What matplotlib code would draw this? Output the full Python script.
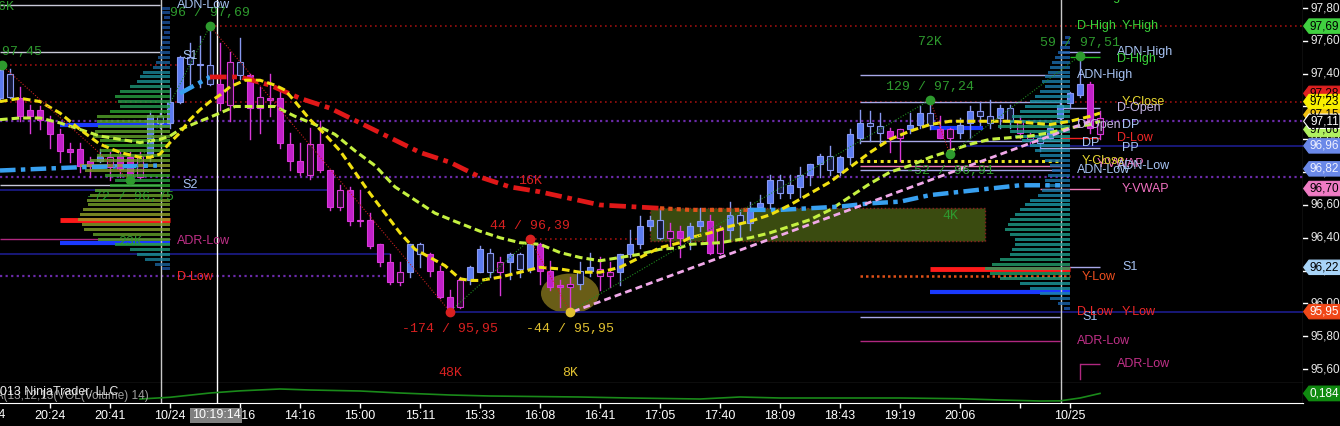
import numpy as np
import matplotlib
matplotlib.use("Agg")
import matplotlib.pyplot as plt
from matplotlib.patches import Rectangle, Ellipse, Polygon
from matplotlib.colors import LinearSegmentedColormap
from matplotlib.transforms import blended_transform_factory

SANS = ["Liberation Sans", "DejaVu Sans"]
MONO = ["Liberation Mono", "DejaVu Sans Mono"]
plt.rcParams["font.family"] = SANS

# ---------------- data (one bar = one candle) ----------------
opens = [97.25, 97.26, 97.25, 97.18, 97.18, 97.11, 97.03, 96.94, 96.94, 96.87,
         96.87, 96.89, 96.90, 96.89, 96.90, 96.89, 97.10, 97.10, 97.23, 97.46,
         97.45, 97.34, 97.34, 97.47, 97.39, 97.39, 97.26, 97.25, 97.25, 96.97,
         96.87, 96.97, 96.97, 96.81, 96.69, 96.69, 96.51, 96.51, 96.36, 96.25,
         96.19, 96.19, 96.30, 96.30, 96.20, 96.04, 96.14, 96.14, 96.19, 96.19,
         96.25, 96.25, 96.21, 96.21, 96.36, 96.20, 96.11, 96.12, 96.12, 96.20,
         96.21, 96.19, 96.19, 96.30, 96.36, 96.47, 96.40, 96.44, 96.44, 96.40,
         96.47, 96.50, 96.45, 96.45, 96.49, 96.49, 96.59, 96.61, 96.67, 96.67,
         96.71, 96.78, 96.85, 96.81, 96.80, 96.89, 97.01, 97.08, 97.04, 97.05,
         97.06, 97.06, 97.09, 97.09, 97.06, 97.06, 97.04, 97.10, 97.14, 97.10,
         97.13, 97.11, 97.11, 97.02, 96.98, 97.01, 97.13, 97.22, 97.27, 97.34,
         97.13]
highs = [97.45, 97.43, 97.32, 97.21, 97.20, 97.14, 97.06, 96.98, 96.98, 96.89,
         96.94, 96.92, 96.92, 96.92, 96.92, 97.17, 97.16, 97.31, 97.51, 97.59,
         97.63, 97.69, 97.59, 97.53, 97.62, 97.40, 97.32, 97.40, 97.31, 97.04,
         96.98, 97.07, 97.11, 96.81, 96.72, 96.71, 96.69, 96.55, 96.36, 96.30,
         96.25, 96.36, 96.37, 96.31, 96.23, 96.08, 96.16, 96.23, 96.35, 96.33,
         96.28, 96.31, 96.31, 96.39, 96.37, 96.26, 96.14, 96.16, 96.25, 96.31,
         96.28, 96.25, 96.30, 96.45, 96.53, 96.53, 96.58, 96.49, 96.47, 96.49,
         96.58, 96.54, 96.47, 96.62, 96.57, 96.62, 96.66, 96.78, 96.78, 96.78,
         96.83, 96.85, 96.91, 96.96, 96.90, 97.06, 97.18, 97.17, 97.16, 97.07,
         97.06, 97.16, 97.20, 97.24, 97.14, 97.07, 97.13, 97.20, 97.23, 97.24,
         97.21, 97.21, 97.14, 97.04, 97.03, 97.09, 97.24, 97.29, 97.51, 97.35,
         97.17]
lows = [97.24, 97.25, 97.11, 97.04, 97.06, 96.95, 96.86, 96.86, 96.80, 96.77,
        96.86, 96.75, 96.77, 96.75, 96.76, 96.87, 97.07, 97.07, 97.22, 97.34,
        97.32, 97.33, 97.18, 97.11, 97.37, 97.00, 97.04, 97.14, 96.95, 96.81,
        96.78, 96.76, 96.80, 96.57, 96.57, 96.48, 96.47, 96.34, 96.23, 96.12,
        96.11, 96.16, 96.22, 96.17, 96.03, 95.95, 95.97, 96.12, 96.19, 96.16,
        96.05, 96.15, 96.16, 96.19, 96.12, 96.08, 95.98, 95.95, 96.09, 96.17,
        96.08, 96.10, 96.11, 96.28, 96.34, 96.45, 96.39, 96.33, 96.28, 96.33,
        96.44, 96.30, 96.30, 96.39, 96.40, 96.45, 96.58, 96.58, 96.64, 96.64,
        96.65, 96.72, 96.77, 96.78, 96.78, 96.85, 96.98, 96.99, 96.98, 96.92,
        96.87, 97.04, 97.07, 97.06, 97.01, 96.91, 97.01, 97.01, 97.09, 97.07,
        97.07, 97.07, 97.01, 96.97, 96.93, 97.00, 97.10, 97.19, 97.26, 97.04,
        97.00]
closes = [97.42, 97.40, 97.14, 97.14, 97.12, 97.03, 96.93, 96.92, 96.84, 96.84,
          96.90, 96.83, 96.82, 96.77, 96.77, 97.15, 97.14, 97.23, 97.50, 97.50,
          97.46, 97.45, 97.22, 97.21, 97.47, 97.19, 97.19, 97.24, 96.98, 96.87,
          96.80, 96.78, 96.81, 96.59, 96.59, 96.50, 96.50, 96.35, 96.25, 96.13,
          96.13, 96.36, 96.36, 96.20, 96.04, 95.97, 95.98, 96.22, 96.33, 96.31,
          96.19, 96.30, 96.30, 96.36, 96.20, 96.10, 96.10, 96.10, 96.20, 96.22,
          96.17, 96.17, 96.30, 96.36, 96.47, 96.51, 96.51, 96.40, 96.40, 96.47,
          96.50, 96.31, 96.31, 96.54, 96.54, 96.58, 96.61, 96.75, 96.75, 96.72,
          96.78, 96.85, 96.90, 96.90, 96.89, 97.03, 97.10, 97.10, 97.08, 97.01,
          97.01, 97.09, 97.16, 97.16, 97.01, 97.01, 97.09, 97.17, 97.17, 97.14,
          97.19, 97.19, 97.04, 97.00, 97.01, 97.07, 97.21, 97.28, 97.34, 97.07,
          97.03]
hollow = [1, 11, 14, 16, 19, 21, 23, 24, 26, 31, 34, 40, 42, 46, 49, 50, 52, 57,
          58, 60, 61, 66, 67, 72, 74, 78, 83, 87, 88, 90, 93, 95, 98, 99, 101,
          102, 103, 104, 110]

# moving averages, sampled along the drawn curves
ma_fast_x = [0, 2, 4, 6, 8, 10, 12, 14, 15, 16, 17, 18, 19, 20, 21, 22, 23, 24.5,
             26, 27.5, 28.5, 29.5, 31, 32.5, 34, 35.5, 37, 38.5, 40, 41.5, 43, 44.5,
             46, 47, 48, 50, 52, 54, 56, 58, 60, 62, 64, 66, 68, 69, 71, 73, 75, 77,
             79, 81, 83, 85, 87, 89, 91, 93, 95, 97, 99, 101, 103, 105, 107, 109, 110]
ma_fast = [97.23, 97.25, 97.23, 97.16, 97.06, 96.97, 96.92, 96.89, 96.89, 96.91,
           96.98, 97.04, 97.12, 97.18, 97.23, 97.27, 97.32, 97.36, 97.36, 97.33,
           97.30, 97.23, 97.12, 97.03, 96.93, 96.80, 96.67, 96.55, 96.43, 96.33,
           96.28, 96.23, 96.15, 96.14, 96.14, 96.16, 96.19, 96.22, 96.21, 96.19,
           96.19, 96.22, 96.28, 96.34, 96.37, 96.40, 96.43, 96.47, 96.50, 96.54,
           96.60, 96.67, 96.74, 96.83, 96.92, 97.00, 97.05, 97.09, 97.11, 97.11,
           97.11, 97.11, 97.10, 97.09, 97.11, 97.14, 97.16]
ma_slow_x = [0, 2, 4, 6, 8, 10, 12, 14, 16, 17, 18, 20, 22, 23.5, 25.5, 27.5, 29.5,
             31.5, 33.5, 35.5, 37.5, 39.5, 41.5, 43.5, 45.5, 48, 50, 52, 54, 56, 58,
             60, 62, 64, 66, 68, 69, 72, 75, 77, 79, 81, 83, 85, 87, 89, 91, 93, 95,
             97, 99, 101, 103, 105, 107, 109, 110]
ma_slow = [97.12, 97.13, 97.13, 97.10, 97.06, 97.02, 97.00, 96.98, 97.00, 97.02,
           97.06, 97.11, 97.16, 97.20, 97.20, 97.20, 97.14, 97.09, 97.03, 96.93,
           96.84, 96.71, 96.63, 96.55, 96.50, 96.44, 96.40, 96.37, 96.36, 96.31,
           96.28, 96.26, 96.28, 96.30, 96.33, 96.34, 96.36, 96.37, 96.40, 96.43,
           96.47, 96.51, 96.57, 96.65, 96.73, 96.80, 96.84, 96.89, 96.93, 96.97,
           97.00, 97.01, 97.02, 97.04, 97.07, 97.09, 97.11]

# session VWAP
vwap_prev_x = [0, 8, 15.7]
vwap_prev = [96.81, 96.83, 96.84]
vwap_x = [18, 21, 24, 27, 30, 33, 36, 39, 42, 45, 48, 51, 54, 57, 60, 63, 66, 69,
          72, 75, 78, 81, 84, 87, 90, 93, 96, 99, 102, 106]
vwap = [97.28, 97.38, 97.38, 97.33, 97.25, 97.19, 97.10, 97.01, 96.92, 96.86,
        96.77, 96.71, 96.68, 96.64, 96.60, 96.59, 96.58, 96.57, 96.57, 96.57,
        96.57, 96.58, 96.59, 96.61, 96.62, 96.66, 96.68, 96.70, 96.72, 96.72]

trend_x = [57.3, 109]
trend = [95.95, 97.11]

# zigzag swings
swing_x = [0.2, 13, 21, 45, 53, 57, 93, 95, 108]
swing_p = [97.45, 96.75, 97.69, 95.95, 96.39, 95.95, 97.24, 96.91, 97.51]
swing_txt = ["63 / 97,45", "-72 / 96,75", "96 / 97,69", "-174 / 95,95", "44 / 96,39",
             "-44 / 95,95", "129 / 97,24", "-52 / 96,91", "59 / 97,51"]
swing_vol = ["26K", "23K", "", "48K", "16K", "8K", "72K", "4K", ""]

# volume profiles, 0.03 bins from the top price down
left_profile_top = 97.80
left_profile = [8, 8, 6, 8, 8, 6, 8, 8, 10, 10, 12, 14, 17, 27, 30, 33, 40, 50, 55, 52,
                50, 60, 73, 73, 72, 75, 77, 70, 65, 70, 73, 80, 90, 85, 65, 55, 60, 75,
                80, 83, 82, 87, 90, 92, 88, 86, 77, 72, 55, 40, 33, 25, 15, 8]
right_profile_top = 97.62
right_profile = [5, 8, 10, 12, 15, 18, 20, 22, 25, 28, 25, 30, 35, 40, 45, 50, 58, 65,
                 72, 60, 55, 48, 40, 35, 30, 25, 20, 18, 22, 25, 25, 28, 32, 40, 45, 50,
                 55, 60, 62, 65, 60, 55, 55, 58, 60, 70, 78, 85, 80, 70, 50, 40, 30, 20,
                 12, 6]

# reference levels: kind, price, first bar, last bar
levels = [
    ("dotred", 97.69, 21, 130.3), ("dotred", 97.45, 0, 17.7), ("dotred", 97.23, 0, 130.3),
    ("dotpurple", 97.11, 0, 130.3), ("dotpurple", 96.77, 0, 130.3),
    ("navy", 95.95, 45, 130.3), ("navy", 96.96, 96, 130.3),
    ("grey", 97.82, 0, 16), ("grey", 97.53, 0, 16), ("grey", 96.72, 0, 16),
    ("navy", 96.69, 0, 33), ("magenta", 96.39, 0, 17), ("navy", 96.30, 0, 39),
    ("dotpurple", 96.17, 0, 39), ("dotred", 96.39, 53, 64),
    ("lav", 97.39, 86, 106), ("lav", 97.23, 86, 106), ("lav", 96.99, 86, 106),
    ("dotyellow", 96.87, 86, 106), ("pink", 96.84, 86, 106), ("lav", 96.81, 86, 106),
    ("dotorange", 96.17, 86, 107), ("lav", 95.92, 86, 106), ("magenta", 95.77, 86, 106),
    ("lav", 97.53, 106, 110), ("green", 97.50, 107, 110), ("lav", 97.19, 106, 110),
    ("red", 97.01, 106, 110), ("lav", 96.95, 104, 110), ("pink", 96.70, 104, 110),
    ("lav", 96.22, 106, 110), ("magenta", 95.63, 108, 110),
    ("poc", 96.51, 6, 17), ("va", 96.37, 6, 17), ("va", 97.09, 6, 17),
    ("poc", 96.21, 93, 107), ("va", 96.07, 93, 107), ("va", 97.07, 93, 98.3),
]
level_labels = [
    ("ADR-High", 107.2, 97.866, "green"),
    ("D-High", 107.7, 97.69, "green"), ("Y-High", 112.2, 97.69, "green"),
    ("ADN-High", 111.7, 97.53, "ltblue"), ("D-High", 111.7, 97.49, "green"),
    ("ADN-High", 107.7, 97.39, "ltblue"), ("Y-Close", 112.2, 97.23, "yellow"),
    ("D-Open", 111.7, 97.19, "lav"), ("D-Open", 107.7, 97.09, "lav"),
    ("DP", 112.2, 97.09, "ltblue"), ("D-Low", 111.7, 97.01, "red"),
    ("DP", 108.2, 96.98, "ltblue"), ("PP", 112.2, 96.95, "ltblue"),
    ("Y-VWAP", 109.7, 96.85, "pink"), ("Y-Close", 108.2, 96.87, "yellow"),
    ("ADN-Low", 111.7, 96.84, "ltblue"), ("ADN-Low", 107.7, 96.81, "ltblue"),
    ("Y-VWAP", 112.2, 96.70, "pink"), ("S1", 112.2, 96.22, "ltblue"),
    ("Y-Low", 108.2, 96.16, "orange"), ("S1", 108.2, 95.92, "ltblue"),
    ("D-Low", 107.7, 95.95, "red"), ("Y-Low", 112.2, 95.95, "red"),
    ("ADR-Low", 107.7, 95.77, "magenta"), ("ADR-Low", 111.7, 95.63, "magenta"),
    ("ADN-Low", 17.7, 97.82, "ltblue"), ("S1", 18.2, 97.51, "ltblue"),
    ("S2", 18.2, 96.72, "ltblue"), ("ADR-Low", 17.7, 96.38, "magenta"),
    ("D-Low", 17.7, 96.16, "red"),
]

# lower indicator panel
ind_x = [14, 17, 21, 24, 28, 31, 36, 40, 45, 49, 54, 58, 63, 70, 74, 78, 84, 90, 96,
         100, 104, 106, 108, 110]
ind = [0.106, 0.13, 0.19, 0.22, 0.246, 0.232, 0.218, 0.19, 0.162, 0.148, 0.14, 0.134,
       0.12, 0.106, 0.134, 0.12, 0.12, 0.12, 0.11, 0.092, 0.078, 0.08, 0.12, 0.184]

# time axis
tick_bars = [5, 11, 17, 24, 30, 36, 42, 48, 54, 60, 66, 72, 78, 84, 90, 96, 102, 107]
tick_labels = ["20:24", "20:41", "10/24", "13:16", "14:16", "15:00", "15:11", "15:33",
               "16:08", "16:41", "17:05", "17:40", "18:09", "18:43", "19:19", "20:06",
               "", "10/25"]
price_ticks = [97.8, 97.6, 97.4, 97.2, 97.0, 96.8, 96.6, 96.4, 96.2, 96.0, 95.8, 95.6]
tag_prices = [97.28, 97.15, 97.06, 97.23, 97.11, 97.69, 96.96, 96.82, 96.70, 96.22, 95.95]

# ---------------- styles ----------------
TXT = {"green": "#3ad23a", "ltblue": "#a8c4f4", "yellow": "#e8d830", "lav": "#c4b4e4",
       "red": "#f02828", "pink": "#f070c0", "orange": "#f05020", "magenta": "#c03088"}
STY = {
    "dotred": dict(color="#9a1010", ls=(0, (1, 2)), lw=1.2),
    "dotpurple": dict(color="#6a2aa8", ls=(0, (1, 1.5)), lw=1.6),
    "navy": dict(color="#1c1c8c", ls="-", lw=1.2),
    "grey": dict(color="#c8c8d8", ls="-", lw=1),
    "lav": dict(color="#a8a8e8", ls="-", lw=1),
    "magenta": dict(color="#b02880", ls="-", lw=1),
    "pink": dict(color="#f07ab8", ls="-", lw=1),
    "red": dict(color="#f02020", ls="-", lw=1),
    "green": dict(color="#20c020", ls="-", lw=1),
    "dotyellow": dict(color="#e8e020", ls=(0, (1, 1.2)), lw=2.2),
    "dotorange": dict(color="#e05018", ls=(0, (1, 1.2)), lw=1.8),
    "poc": dict(color="#ff1a1a", ls="-", lw=3.5),
    "va": dict(color="#1a3aff", ls="-", lw=3),
}
SWING_COLORS = ["#2e9a2e", "#2e9a2e", "#2e9a2e", "#d82020", "#d82020", "#e0c030",
                "#2e9a2e", "#2e9a2e", "#2e9a2e"]
TAG_STYLES = [("#e02020", "black"), ("#f0c010", "black"), ("#b0f060", "black"),
              ("#f8f000", "black"), ("black", "white"), ("#40d040", "black"),
              ("#6a88e8", "#eef0ff"), ("#6a88e8", "#eef0ff"), ("#f07cc4", "black"),
              ("#a8d4f8", "black"), ("#f04818", "white")]

W, H = 1340, 426
XLIM = (0, 130.3)
YLIM = (95.515, 97.849)


def frac(x0, y0, x1, y1):
    return [x0 / W, 1 - y1 / H, (x1 - x0) / W, (y1 - y0) / H]


fig = plt.figure(figsize=(W / 100, H / 100), dpi=100, facecolor="black")
ax = fig.add_axes(frac(0, 0, 1303, 383))
ax_low = fig.add_axes(frac(0, 383, 1303, 403))
ax_px = fig.add_axes(frac(1303, 0, 1340, 383))
ax_px_low = fig.add_axes(frac(1303, 383, 1340, 403))

for a in (ax, ax_low, ax_px, ax_px_low):
    a.set_facecolor("black")
    for s in a.spines.values():
        s.set_visible(False)
    a.set_yticks([])
for a in (ax, ax_low):
    a.set_xlim(*XLIM)
    a.spines["bottom"].set_visible(True)
    a.spines["bottom"].set_color("white")
    a.spines["right"].set_visible(True)
    a.spines["right"].set_color("white")
ax.set_ylim(*YLIM)
ax.set_xticks([])

# zone and highlight
ax.add_patch(Rectangle((65, 96.38), 33.5, 0.20, facecolor="#3a4b10", edgecolor="#8b2020",
                       ls=":", lw=1, zorder=1))
ax.add_patch(Ellipse((57, 96.06), 5.8, 0.244, facecolor="#75681a", edgecolor="none",
                     alpha=0.9, zorder=1))

for kind, p, x0, x1 in levels:
    ax.plot([x0, x1], [p, p], zorder=1.5, solid_capstyle="butt", **STY[kind])
ax.plot([108, 108], [95.54, 95.63], **STY["magenta"])

for v, c in ((16.07, "#c8c8c8"), (21.7, "white"), (106.07, "#c8c8c8")):
    ax.axvline(v, color=c, lw=1, zorder=1.6)
    ax_low.axvline(v, color=c, lw=1, zorder=1.6)

# candles
for i, (o, h, l, c) in enumerate(zip(opens, highs, lows, closes)):
    up = c >= o
    edge = "#8898f0" if up else "#d838d8"
    face = "#5b7cf0" if up else "#c020c8"
    if i in hollow:
        face = "#141838" if up else "#2a0a2a"
    ax.plot([i, i], [l, h], color=edge, lw=1, zorder=2)
    ax.add_patch(Rectangle((i - 0.32, min(o, c)), 0.64, max(abs(c - o), 0.008),
                           facecolor=face, edgecolor=edge, lw=0.8, zorder=2.1))

# volume profiles
cm_left = LinearSegmentedColormap.from_list(
    "lp", ["#1c3c9c", "#1a8f9a", "#2aa52a", "#9aa22a"])
cm_right = LinearSegmentedColormap.from_list(
    "rp", ["#1c4cb0", "#1a9aaa", "#24a060"])
for vals, top, anchor, cm in ((left_profile, left_profile_top, 17.0, cm_left),
                              (right_profile, right_profile_top, 107.0, cm_right)):
    v = np.asarray(vals, float)
    prices = top - 0.03 * np.arange(len(v))
    widths = v * 0.1
    ax.barh(prices, widths, height=0.018, left=anchor - widths,
            color=cm(v / v.max()), alpha=0.8, lw=0, zorder=2.5)

# moving averages, vwap, trend
ax.plot(ma_slow_x, ma_slow, color="#c4f040", lw=2.2, ls=(0, (2.5, 1.3)), zorder=3)
ax.plot(ma_fast_x, ma_fast, color="#f0e010", lw=2.2, ls=(0, (2.5, 1.3)), zorder=3.1)
dd = (0, (3.5, 1.2, 1, 1.2))
ax.plot(vwap_prev_x, vwap_prev, color="#38a0f0", lw=3.2, ls=dd, zorder=3)
ax.plot(vwap_x[:2], vwap[:2], color="#38a0f0", lw=3.2, ls=dd, zorder=3)
ax.plot(vwap_x[1:17], vwap[1:17], color="#e01818", lw=3.4, ls=dd, zorder=3)
ax.plot(vwap_x[16:20], vwap[16:20], color="#e05018", lw=3, ls=(0, (1, 1)), zorder=3)
ax.plot(vwap_x[19:], vwap[19:], color="#38a0f0", lw=3.2, ls=dd, zorder=3)
ax.plot(trend_x, trend, color="#f0a8e8", lw=2, ls=(0, (2.5, 1.5)), zorder=3.2)

# zigzag
for k in range(len(swing_x) - 1):
    upleg = swing_p[k + 1] > swing_p[k]
    ax.plot(swing_x[k:k + 2], swing_p[k:k + 2], color="#1f8a1f" if upleg else "#c02020",
            lw=0.8, ls=(0, (1, 1.5)), zorder=3.4)
for k, (x, p) in enumerate(zip(swing_x, swing_p)):
    nb = swing_p[k + 1] if k + 1 < len(swing_p) else swing_p[k - 1]
    high = p > nb
    col = SWING_COLORS[k]
    ax.plot(x, p, "o", ms=6, color=col, mec=col, zorder=3.6)
    ax.annotate(swing_txt[k], (x, p), xytext=(0, 9.4 if high else -12.2),
                textcoords="offset points", ha="center", va="center", color=col,
                family=MONO, fontsize=9.5, zorder=5, annotation_clip=False)
    if swing_vol[k]:
        ax.annotate(swing_vol[k], (x, p), xytext=(0, 41.8 if high else -44.5),
                    textcoords="offset points", ha="center", va="center", color=col,
                    family=MONO, fontsize=9.5, zorder=5, annotation_clip=False)

for txt, x, p, c in level_labels:
    ax.text(x, p, txt, color=TXT[c], fontsize=9, ha="left", va="center", zorder=5)

# lower panel
ax_low.set_ylim(0.05, 0.33)
ax_low.plot(ind_x, ind, color="#1a8a1a", lw=1.2, zorder=3)
ax_low.text(-2.2, 0.15, "SMA(13,12,13(VOL(Volume) 14)", color="#a0a0a0", fontsize=8.5,
            va="center", ha="left", zorder=4)
ax_low.text(-2.0, 0.21, "\u00a9 2013 NinjaTrader, LLC", color="#e8e8e8", fontsize=9,
            va="center", ha="left", zorder=4)
ax_low.set_xticks(tick_bars)
ax_low.set_xticklabels(tick_labels)
ax_low.tick_params(axis="x", colors="white", labelcolor="white", length=3.6, width=1,
                   pad=1.5, labelsize=9)
bt = blended_transform_factory(ax_low.transData, ax_low.transAxes)
ax_low.text(-1, -0.62, "20:04", transform=bt, color="white", fontsize=9, ha="center",
            va="center", clip_on=False)
ax_low.text(21.6, -0.62, "10:19:14", transform=bt, color="white", fontsize=9,
            ha="center", va="center", clip_on=False, zorder=10,
            bbox=dict(facecolor="#808080", edgecolor="none", pad=1.2))

# price scale
ax_px.set_xlim(0, 37)
ax_px.set_ylim(*YLIM)
ax_px.set_xticks([])
for p in price_ticks:
    ax_px.plot([0, 4], [p, p], color="white", lw=1)
    ax_px.text(7.5, p, f"{p:.2f}".replace(".", ","), color="#e8e8e8", fontsize=8.5,
               ha="left", va="center")
hh = 7.2 / 164.1
for p, (fc, tc) in zip(tag_prices, TAG_STYLES):
    ec = "white" if fc == "black" else fc
    ax_px.add_patch(Polygon([(0.6, p), (6, p + hh), (37, p + hh), (37, p - hh), (6, p - hh)],
                            closed=True, facecolor=fc, edgecolor=ec, lw=0.8, zorder=4))
    ax_px.text(21.5, p, f"{p:.2f}".replace(".", ","), color=tc, fontsize=8.5,
               ha="center", va="center", zorder=5)

ax_px_low.set_xlim(0, 37)
ax_px_low.set_ylim(0.05, 0.33)
ax_px_low.set_xticks([])
hl = 7.2 / 20 * 0.28
pv = ind[-1]
ax_px_low.add_patch(Polygon([(0.6, pv), (6, pv + hl), (37, pv + hl), (37, pv - hl), (6, pv - hl)],
                            closed=True, facecolor="#108a10", edgecolor="#108a10", zorder=4))
ax_px_low.text(21.5, pv, f"{pv:.3f}".replace(".", ","), color="white", fontsize=8.5,
               ha="center", va="center", zorder=5)

fig.savefig("out.png", dpi=100, facecolor="black")
